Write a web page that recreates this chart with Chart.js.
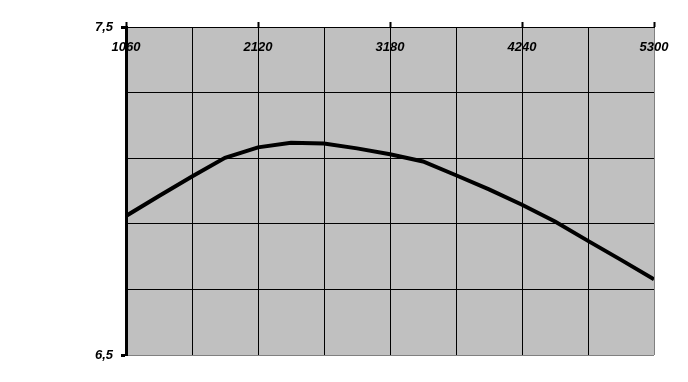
<!DOCTYPE html>
<html>
<head>
<meta charset="utf-8">
<script src="https://cdn.jsdelivr.net/npm/chart.js@4.4.1/dist/chart.umd.min.js"></script>
<style>
  body { margin: 0; background: #ffffff; }
  canvas { display: block; }
</style>
</head>
<body>
<canvas id="chart" width="688" height="382"></canvas>
<script>
// x positions of the curve points
var xValues = [1060, 1325, 1590, 1855, 2120, 2385, 2650, 2915, 3180, 3445, 3710, 3975, 4240, 4505, 4770, 5035, 5300];
// curve values
var yValues = [6.924, 6.985, 7.044, 7.101, 7.133, 7.147, 7.145, 7.130, 7.112, 7.090, 7.048, 7.005, 6.958, 6.907, 6.848, 6.790, 6.731];
// labelled ticks
var xTickLabels = [1060, 2120, 3180, 4240, 5300];
var yTickLabels = [6.5, 7.5];

var labelFont = 'bold italic 13px "Liberation Sans", Arial, sans-serif';

function isYLabel(v) {
    for (var i = 0; i < yTickLabels.length; i++) {
        if (Math.abs(v - yTickLabels[i]) < 1e-6) return true;
    }
    return false;
}
function isXLabel(v) {
    return xTickLabels.indexOf(v) !== -1;
}

var points = [];
for (var i = 0; i < xValues.length; i++) {
    points.push({ x: xValues[i], y: yValues[i] });
}

// gray plot background
var plotBackground = {
    id: 'plotBackground',
    beforeDraw: function(chart) {
        var a = chart.chartArea;
        var ctx = chart.ctx;
        ctx.save();
        ctx.fillStyle = '#c0c0c0';
        ctx.fillRect(a.left, a.top, a.right - a.left, a.bottom - a.top);
        ctx.restore();
    }
};

// x labels sit just inside the top of the plot
var topLabels = {
    id: 'topLabels',
    afterDraw: function(chart) {
        var ctx = chart.ctx;
        var xs = chart.scales.x;
        ctx.save();
        ctx.font = labelFont;
        ctx.fillStyle = '#000000';
        ctx.textAlign = 'center';
        ctx.textBaseline = 'middle';
        for (var i = 0; i < xTickLabels.length; i++) {
            ctx.fillText(String(xTickLabels[i]), xs.getPixelForValue(xTickLabels[i]), chart.chartArea.top + 20);
        }
        ctx.restore();
    }
};

new Chart(document.getElementById('chart').getContext('2d'), {
    type: 'line',
    data: {
        datasets: [{
            data: points,
            borderColor: '#000000',
            borderWidth: 4,
            pointRadius: 0,
            tension: 0,
            fill: false
        }]
    },
    options: {
        responsive: false,
        animation: false,
        devicePixelRatio: 1,
        layout: { padding: { left: 0, top: 0, right: 34, bottom: 27 } },
        plugins: {
            legend: { display: false },
            tooltip: { enabled: false }
        },
        scales: {
            x: {
                type: 'linear',
                position: 'top',
                min: 1060,
                max: 5300,
                afterFit: function(scale) { scale.height = 27; },
                ticks: { display: false, stepSize: 530 },
                grid: {
                    color: function(c) { return c.tick && c.tick.value === 5300 ? '#808080' : '#000000'; },
                    lineWidth: 1,
                    tickLength: 5,
                    tickColor: function(c) { return c.tick && isXLabel(c.tick.value) ? '#000000' : 'rgba(0,0,0,0)'; },
                    tickWidth: 2
                },
                border: { color: '#000000', width: 1 }
            },
            y: {
                min: 6.5,
                max: 7.5,
                afterFit: function(scale) { scale.width = 126; },
                ticks: {
                    stepSize: 0.2,
                    padding: 8,
                    color: '#000000',
                    font: { family: '"Liberation Sans", Arial, sans-serif', size: 13, weight: 'bold', style: 'italic' },
                    callback: function(v) {
                        return isYLabel(v) ? v.toFixed(1).replace('.', ',') : '';
                    }
                },
                grid: {
                    color: function(c) { return c.tick && Math.abs(c.tick.value - 6.5) < 1e-6 ? '#808080' : '#000000'; },
                    lineWidth: 1,
                    tickLength: 5,
                    tickColor: function(c) { return c.tick && isYLabel(c.tick.value) ? '#000000' : 'rgba(0,0,0,0)'; },
                    tickWidth: 3
                },
                border: { color: '#000000', width: 3 }
            }
        }
    },
    plugins: [plotBackground, topLabels]
});
</script>
</body>
</html>
